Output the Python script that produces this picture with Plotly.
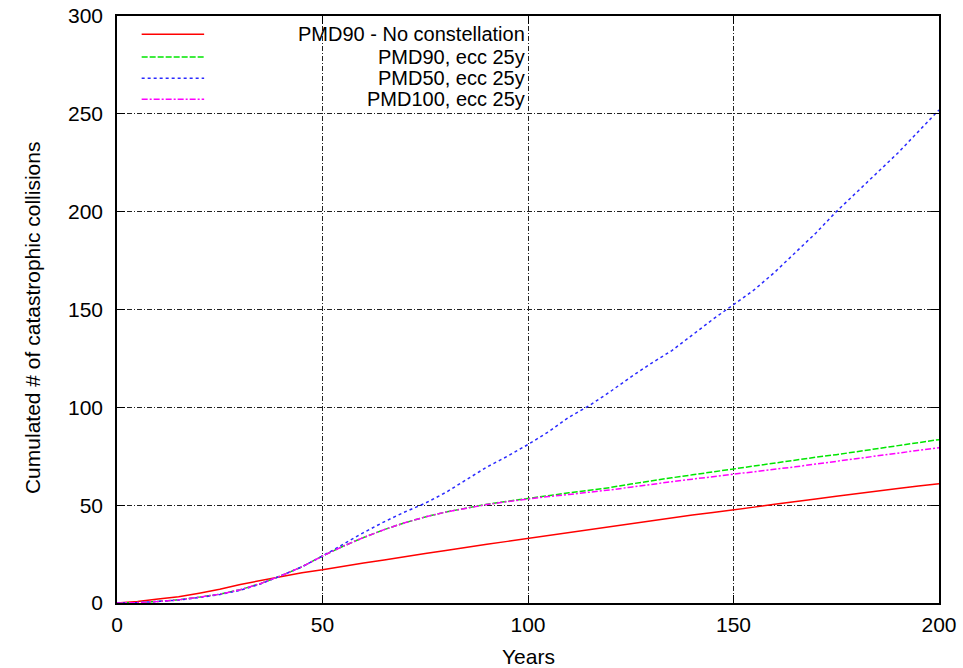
import plotly.graph_objects as go

years = list(range(0, 205, 5))

no_constellation = [0, 0.8, 2, 3.2, 5, 7, 9.5, 11.5, 13.5, 15.5, 17, 18.8, 20.5, 22, 23.8,
                    25.3, 26.8, 28.5, 30, 31.5, 33, 34.6, 36, 37.5, 39, 40.5, 42, 43.5, 45,
                    46.2, 47.5, 49, 50.5, 52, 53.2, 54.6, 55.8, 57.2, 58.5, 59.8, 61]
pmd90_ecc = [0, 0.2, 0.8, 1.6, 3, 4.5, 6.8, 10, 14, 18.5, 24, 29, 33.5, 37.5, 41, 44, 46.5,
             48.5, 50.5, 52, 53.5, 55, 56.3, 57.6, 59, 60.8, 62.5, 64, 65.5, 67, 68.7, 70,
             71.5, 73, 74.5, 75.8, 77.3, 78.8, 80.3, 82, 83.5]
pmd50_ecc = [0, 0.2, 0.8, 1.5, 2.8, 4.3, 6.5, 9.8, 14, 18.5, 24, 30, 36, 41.5, 46.5, 51,
             56.5, 63, 69.5, 75, 81, 87.5, 95, 101, 108, 115.5, 122.5, 129, 137, 145, 152.5,
             160, 169, 179, 189, 200, 210, 220, 230, 241, 252]
pmd100_ecc = [0, 0.2, 0.8, 1.6, 3, 4.5, 6.8, 10, 14, 18.5, 24, 29, 33.5, 37.5, 41, 44, 46.5,
              48.5, 50.3, 51.8, 53.2, 54.4, 55.5, 56.6, 57.8, 59.2, 60.7, 62, 63.3, 64.5,
              65.8, 67, 68.3, 69.6, 71, 72.4, 73.8, 75.2, 76.6, 78, 79.4]

series_names = ["PMD90 - No constellation", "PMD90, ecc 25y", "PMD50, ecc 25y", "PMD100, ecc 25y"]
series_values = [no_constellation, pmd90_ecc, pmd50_ecc, pmd100_ecc]
colors = ["#ff0000", "#00e600", "#2a2aff", "#ff00ff"]
dashes = ["solid", "6px,2px", "3px,3px", "6px,2px,2px,2px"]

x_ticks = [0, 50, 100, 150, 200]
y_ticks = [0, 50, 100, 150, 200, 250, 300]

FONT = "Liberation Sans, Arial, sans-serif"

fig = go.Figure()
for name, vals, c, d in zip(series_names, series_values, colors, dashes):
    fig.add_trace(go.Scatter(x=years, y=vals, mode="lines", name=name,
                             line=dict(color=c, width=1.5, dash=d), showlegend=False))

# opaque legend box
fig.add_shape(type="rect", xref="paper", yref="paper", x0=0.002, x1=0.498, y0=0.84, y1=0.997,
              fillcolor="white", line=dict(width=0), layer="between")

leg_y = [0.969, 0.930, 0.894, 0.858]
for name, c, d, yy in zip(series_names, colors, dashes, leg_y):
    fig.add_shape(type="line", xref="paper", yref="paper", x0=0.030, x1=0.106, y0=yy, y1=yy,
                  line=dict(color=c, width=1.5, dash=d))
    fig.add_annotation(xref="paper", yref="paper", x=0.497, y=yy, text=name, showarrow=False,
                       xanchor="right", yanchor="middle", borderpad=0,
                       font=dict(family=FONT, size=20, color="black"))

# axis titles
fig.add_annotation(xref="paper", yref="paper", x=0.5, y=-0.091, text="Years", showarrow=False,
                   xanchor="center", yanchor="middle", borderpad=0,
                   font=dict(family=FONT, size=21, color="black"))
fig.add_annotation(xref="paper", yref="paper", x=-0.103, y=0.486,
                   text="Cumulated # of catastrophic collisions", showarrow=False, textangle=-90,
                   xanchor="center", yanchor="middle", font=dict(family=FONT, size=21, color="black"))

axis_common = dict(showline=True, linecolor="black", linewidth=1.5, mirror="ticks",
                   ticks="inside", ticklen=8, tickcolor="black", tickwidth=1,
                   showgrid=True, gridcolor="#222222", gridwidth=1, griddash="5px,2px,1px,2px",
                   zeroline=False, automargin=False,
                   tickfont=dict(family=FONT, size=21, color="black"))

fig.update_xaxes(range=[0, 200], tickvals=x_ticks, ticktext=[str(v) for v in x_ticks],
                 ticklabelstandoff=2, **axis_common)
fig.update_yaxes(range=[0, 300], tickvals=y_ticks, ticktext=[str(v) for v in y_ticks],
                 ticklabelstandoff=8, **axis_common)

fig.update_layout(width=963, height=668, margin=dict(l=117, r=24, t=16, b=65),
                  plot_bgcolor="white", paper_bgcolor="white",
                  font=dict(family=FONT, size=21, color="black"))

fig.write_html("out.html")
